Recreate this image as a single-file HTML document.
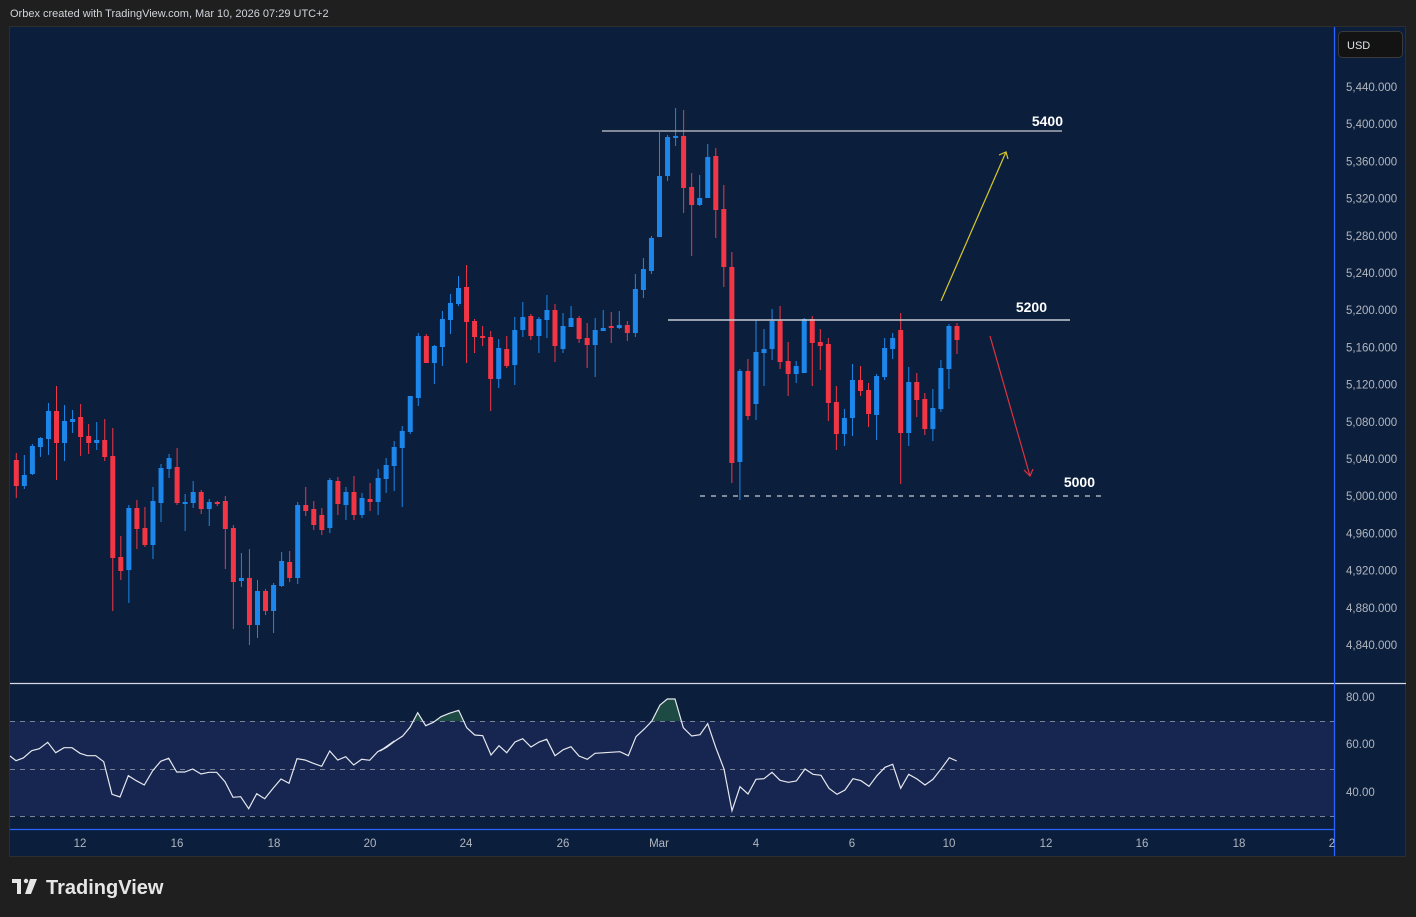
<!DOCTYPE html>
<html><head><meta charset="utf-8">
<style>
html,body{margin:0;padding:0;background:#1f1f1f;width:1416px;height:917px;overflow:hidden;font-family:"Liberation Sans",sans-serif;}
svg{position:absolute;left:0;top:0}
</style></head>
<body>
<svg id="c" width="1416" height="917" xmlns="http://www.w3.org/2000/svg" font-family="Liberation Sans, sans-serif">
<rect x="0" y="0" width="1416" height="917" fill="#1f1f1f"/>
<text x="10" y="17" font-size="11" fill="#d1d4dc">Orbex created with TradingView.com, Mar 10, 2026 07:29 UTC+2</text>
<rect x="9.5" y="26.5" width="1396" height="830" fill="#0b1f3c" stroke="#2e2e2e"/>
<!-- RSI band -->
<rect x="10" y="721" width="1324" height="95" fill="#172650"/>
<g stroke="#7a8396" stroke-dasharray="5,5" stroke-width="1">
<line x1="10" y1="721.5" x2="1334" y2="721.5"/>
<line x1="10" y1="769.5" x2="1334" y2="769.5"/>
<line x1="10" y1="816.5" x2="1334" y2="816.5"/>
</g>
<line x1="10" y1="683.5" x2="1406" y2="683.5" stroke="#d8dbe3" stroke-width="1.3"/>
<line x1="10" y1="829.5" x2="1334" y2="829.5" stroke="#2962ff" stroke-width="1.3"/>
<line x1="1334.5" y1="27" x2="1334.5" y2="856" stroke="#2962ff" stroke-width="1.3"/>
<g id="candles"></g>
<defs><clipPath id="ob"><rect x="10" y="684" width="1324" height="37"/></clipPath></defs>
<polygon id="rsifill" fill="#1e4a44" clip-path="url(#ob)"/>
<polyline id="rsi" fill="none" stroke="#e6e8ee" stroke-width="1.2"/>
<!-- levels -->
<line x1="602" y1="131" x2="1062" y2="131" stroke="#a9adb8" stroke-width="1.5"/>
<line x1="668" y1="320" x2="1070" y2="320" stroke="#c8cbd3" stroke-width="1.5"/>
<line x1="700" y1="496" x2="1101" y2="496" stroke="#c8cbd3" stroke-width="1.3" stroke-dasharray="5,6"/>
<g font-size="14" font-weight="bold" fill="#ffffff" text-anchor="end">
<text x="1063" y="126">5400</text>
<text x="1047" y="312">5200</text>
<text x="1095" y="487">5000</text>
</g>
<line x1="941" y1="301" x2="1006" y2="152" stroke="#d9c82a" stroke-width="1.2"/>
<polyline points="999,155 1006,152 1008,159" fill="none" stroke="#d9c82a" stroke-width="1.2"/>
<line x1="990" y1="336" x2="1030" y2="476" stroke="#e0323f" stroke-width="1.2"/>
<polyline points="1024,470 1030,476 1033,469" fill="none" stroke="#e0323f" stroke-width="1.2"/>
<!-- price axis -->
<rect x="1338.5" y="31.5" width="64" height="26" rx="4" fill="#131313" stroke="#3a3a3a"/>
<text x="1347" y="49" font-size="11" fill="#e0e3eb">USD</text>
<g id="pax" font-size="11.5" fill="#b2b5be"></g>
<g font-size="11.5" fill="#b2b5be">
<text x="1346" y="701">80.00</text>
<text x="1346" y="748">60.00</text>
<text x="1346" y="796">40.00</text>
</g>
<g font-size="11.5" fill="#b2b5be" text-anchor="middle">
<text x="80" y="847">12</text><text x="177" y="847">16</text><text x="274" y="847">18</text>
<text x="370" y="847">20</text><text x="466" y="847">24</text><text x="563" y="847">26</text>
<text x="659" y="847">Mar</text><text x="756" y="847">4</text><text x="852" y="847">6</text>
<text x="949" y="847">10</text><text x="1046" y="847">12</text><text x="1142" y="847">16</text>
<text x="1239" y="847">18</text><text x="1332" y="847">2</text>
</g>
<!-- logo -->
<g fill="#e6e6e6">
<rect x="12" y="879" width="9" height="4"/><rect x="17" y="879" width="4" height="15"/>
<circle cx="26" cy="881" r="2.2"/><polygon points="30,879 37,879 31,894 25,894"/>
</g>
<text x="46" y="894" font-size="20" font-weight="bold" fill="#e6e6e6">TradingView</text>
</svg>
<script>
var D="r,460,486,453,498;b,475,486,455,489;b,446,474,444,475;b,438,447,437,457;b,411,439,403,455;r,411,443,386,480;b,421,443,405,461;b,419,422,410,433;r,417,437,404,456;r,436,443,424,454;b,440,443,422,450;r,440,457,419,461;r,456,558,428,611;r,557,571,536,580;b,508,570,505,603;r,508,529,500,549;r,528,545,507,547;b,501,545,487,559;b,468,503,464,522;b,458,469,454,478;r,467,503,448,505;b,502,503,494,531;b,492,503,481,508;r,492,509,490,514;b,502,509,499,526;r,502,503,501,506;r,501,529,496,569;r,528,582,525,629;b,578,581,553,587;r,578,625,549,645;b,591,625,580,638;r,591,611,589,615;b,585,611,583,633;b,561,586,552,587;r,562,578,551,582;b,505,578,502,584;r,505,511,487,516;r,509,525,501,530;r,515,530,508,535;b,480,528,478,533;r,481,504,477,515;b,492,505,487,520;r,492,515,476,520;b,498,515,493,518;r,499,502,483,511;b,478,502,469,515;b,465,479,458,493;b,447,466,441,491;b,431,448,426,507;b,396,432,396,434;b,336,398,333,406;r,336,363,334,363;b,346,363,345,384;b,319,347,311,366;b,303,320,294,334;b,288,304,276,306;r,287,322,265,363;r,321,337,319,353;r,336,337,326,346;r,337,379,331,411;b,348,379,339,388;r,349,366,336,368;b,330,365,317,385;b,317,330,302,337;r,316,336,314,340;b,319,336,317,353;b,310,320,295,338;r,310,346,304,362;b,326,349,313,353;b,318,327,306,327;r,318,339,316,343;r,338,345,323,368;b,330,345,318,377;b,328,331,310,331;r,326,327,312,343;b,325,328,311,329;r,325,333,321,341;b,289,333,274,337;b,269,290,258,298;b,238,271,236,274;b,176,237,132,237;b,137,176,135,181;b,136,138,108,146;r,136,188,110,213;r,187,205,173,256;b,198,205,175,206;b,157,198,144,198;r,156,210,148,238;r,209,267,185,287;r,267,463,252,483;b,371,462,369,500;r,371,416,359,420;b,352,404,320,420;b,349,353,329,386;b,321,349,309,360;r,321,362,306,369;r,361,374,342,396;b,366,374,361,383;b,319,373,318,373;r,319,343,316,386;r,342,346,329,370;r,344,403,338,421;r,402,434,386,450;b,418,434,409,446;b,380,418,364,436;r,380,391,366,396;r,390,414,383,427;b,376,415,374,440;b,348,377,338,380;b,338,349,333,359;r,330,433,313,484;b,382,433,367,446;r,382,400,373,417;r,399,429,393,435;b,408,429,389,441;b,368,409,360,412;b,326,369,324,389;r,326,340,323,354";
var NS="http://www.w3.org/2000/svg",g=document.getElementById("candles"),h="";
D.split(";").forEach(function(s,i){var a=s.split(","),c=a[0]=="r"?"#f23645":"#1c86ea",x=16.3+8.04*i;
var t=+a[1],b=+a[2],hi=+a[3],lo=+a[4];if(b-t<2)b=t+2;
h+='<line x1="'+x+'" y1="'+hi+'" x2="'+x+'" y2="'+lo+'" stroke="'+c+'" stroke-width="1"/>';
h+='<rect x="'+(x-2.5)+'" y="'+t+'" width="5" height="'+(b-t)+'" fill="'+c+'"/>';});
g.innerHTML=h;
var p=[],z3=[[30,228],[48,242],[70,234],[95,212],[118,206],[143,187],[167,218],[192,203],[216,203],[240,220],[262,227],[287,227],[311,245],[336,343],[360,351],[385,287],[409,302],[433,315],[458,272],[482,244],[506,235],[530,276],[554,276],[578,267],[603,282],[627,277],[650,277],[675,305],[699,352],[722,350],[746,386],[770,341],[794,356],[818,326],[843,297],[867,310],[891,236],[915,240],[940,250],[965,259],[989,213],[1013,240],[1037,230],[1061,255],[1085,238],[1109,241],[1133,215],[1158,202],[1183,183]];
z3.forEach(function(q){p.push([q[0]/3,680+q[1]/3]);});
var z7=[[0,183],[20,172],[45,153],[68,138],[90,112],[113,68],[137,107],[160,97],[183,80],[208,70],[236,61],[260,113],[284,135],[308,137],[333,195],[357,167],[380,188],[405,156],[428,146],[453,171],[477,156],[500,148],[525,197],[550,179],[573,170],[597,198],[622,208],[645,190],[720,185],[745,197],[768,140],[793,117],[815,94],[840,45],[862,27],[885,27]];
z7.forEach(function(q){p.push([380+q[0]/3,690+q[1]/3]);});
var z8=[[10,113],[35,138],[60,134],[83,101],[107,172],[132,237],[156,362],[180,290],[204,312],[228,268],[252,266],[276,247],[300,271],[325,277],[349,273],[375,237],[399,253],[423,256],[447,295],[471,313],[495,300],[519,266],[543,272],[567,289],[591,257],[615,232],[638,223],[662,295],[686,253],[711,267],[735,285],[759,268],[784,236],[808,203],[830,213]];
z8.forEach(function(q){p.push([680+q[0]/3,690+q[1]/3]);});
var s=p.map(function(q){return q[0].toFixed(1)+","+q[1].toFixed(1)}).join(" ");
document.getElementById("rsi").setAttribute("points",s);
document.getElementById("rsifill").setAttribute("points",s+" "+p[p.length-1][0]+",721 "+p[0][0]+",721");
var pa="";for(var k=0;k<16;k++){var v=5440-40*k,y=87+k*37.2;pa+='<text x="1346" y="'+(y+4)+'">'+(v+"").replace(/(\d)(\d{3})$/,"$1,$2")+'.000</text>';}
document.getElementById("pax").innerHTML=pa;
</script>
</body></html>
